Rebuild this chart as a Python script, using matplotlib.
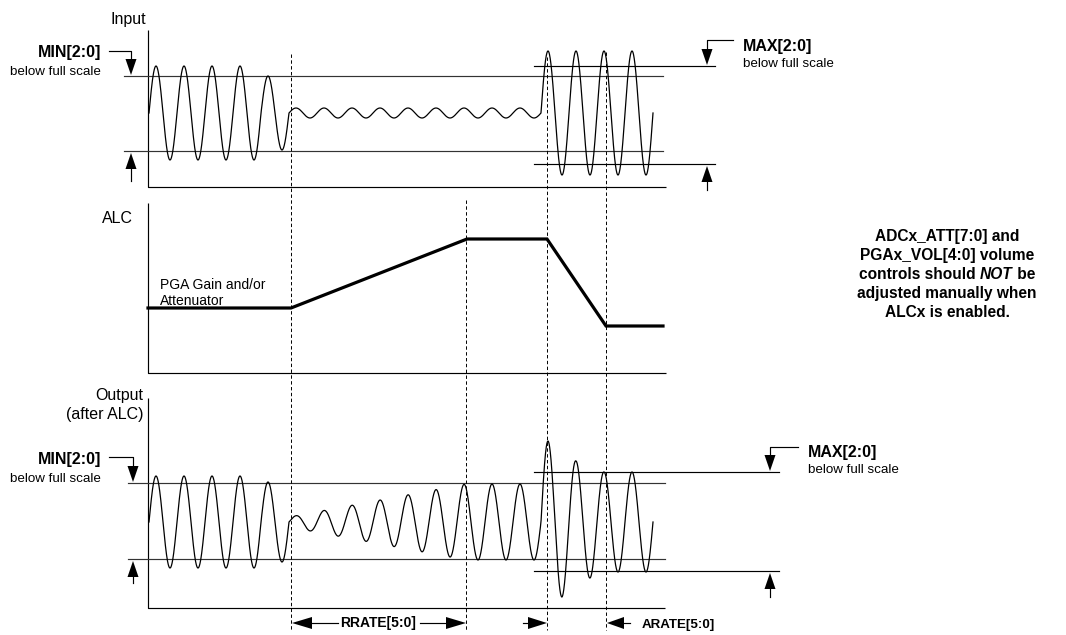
import numpy as np
import matplotlib
matplotlib.use("Agg")
import matplotlib.pyplot as plt

plt.rcParams['font.family'] = ['Liberation Sans', 'DejaVu Sans']

# ---------------- data (diagram in pixel space, y grows downward) ----------------
wave_period = 28          # one sine cycle
wave_zero = 149           # rising zero crossing
wave_start, wave_end = 149, 653

input_center = 113
input_env_x = [149, 261, 261, 289, 289, 541, 541, 653]
input_env_amp = [47, 47, 37, 37, 5, 5, 62, 62]

output_center = 522
output_env_x = [149, 261, 261, 289, 289, 466, 541, 541, 548, 562, 576, 590, 604, 653]
output_env_amp = [46, 46, 40, 40, 5, 38, 38, 81, 81, 75, 61, 56, 50, 50]

alc_x = [148, 291, 467, 547, 606, 663]
alc_y = [308, 308, 239, 239, 326, 326]

event_x = [291, 466, 547, 606]
event_top = [54, 200, 57, 52]
event_bottom = 630

input_min_levels = [76, 151]
input_max_levels = [66, 164]
output_min_levels = [483, 559]
output_max_levels = [472, 571]

note_lines = ["ADCx_ATT[7:0] and", "PGAx_VOL[4:0] volume",
              ("controls should ", "NOT", " be"), "adjusted manually when",
              "ALCx is enabled."]

# ---------------- figure ----------------
fig = plt.figure(figsize=(10.66, 6.35), dpi=100)
ax = fig.add_axes([0, 0, 1, 1])
ax.set_xlim(0, 1066)
ax.set_ylim(635, 0)
ax.axis('off')

K = 'black'
thin = 0.85


def head(tip_x, tip_y, direction, length=16, width=11):
    hw = width / 2.0
    if direction == 'down':
        xs = [tip_x, tip_x - hw, tip_x + hw]
        ys = [tip_y, tip_y - length, tip_y - length]
    elif direction == 'up':
        xs = [tip_x, tip_x - hw, tip_x + hw]
        ys = [tip_y, tip_y + length, tip_y + length]
    elif direction == 'left':
        xs = [tip_x, tip_x + length, tip_x + length]
        ys = [tip_y, tip_y - hw, tip_y + hw]
    else:
        xs = [tip_x, tip_x - length, tip_x - length]
        ys = [tip_y, tip_y - hw, tip_y + hw]
    ax.fill(xs, ys, color=K, lw=0, zorder=5)


# panel frames (L shapes)
for top, bottom, right in [(30, 187, 666), (203, 373, 666), (398, 608, 665)]:
    ax.plot([148, 148, right], [top, bottom, bottom], color=K, lw=thin, solid_capstyle='butt')

# threshold lines
for lv in input_min_levels:
    ax.plot([124, 663], [lv, lv], color='#333333', lw=thin)
for lv in input_max_levels:
    ax.plot([534, 715], [lv, lv], color=K, lw=thin)
for lv in output_min_levels:
    ax.plot([128, 665], [lv, lv], color='#333333', lw=thin)
for lv in output_max_levels:
    ax.plot([534, 779], [lv, lv], color=K, lw=thin)

# waveforms
xs = np.linspace(wave_start, wave_end, 4000)
phase = np.sin(2 * np.pi * (xs - wave_zero) / wave_period)
in_y = input_center - np.interp(xs, input_env_x, input_env_amp) * phase
out_y = output_center - np.interp(xs, output_env_x, output_env_amp) * phase
ax.plot(xs, in_y, color=K, lw=0.9)
ax.plot(xs, out_y, color=K, lw=0.9)

# ALC gain trace
ax.plot(alc_x, alc_y, color=K, lw=2.3, solid_joinstyle='miter')

# event dashed lines
for x, t in zip(event_x, event_top):
    ax.plot([x, x], [t, event_bottom], color=K, lw=0.7, linestyle=(0, (3.5, 2.5)))

# panel labels
ax.text(146, 24, "Input", ha='right', va='baseline', fontsize=11.5)
ax.text(133, 223, "ALC", ha='right', va='baseline', fontsize=11.5)
ax.text(143, 400, "Output", ha='right', va='baseline', fontsize=11.5)
ax.text(143, 419, "(after ALC)", ha='right', va='baseline', fontsize=11.5)
ax.text(160, 289, "PGA Gain and/or", ha='left', va='baseline', fontsize=10)
ax.text(160, 305, "Attenuator", ha='left', va='baseline', fontsize=10)


def min_note(ax_x, lead_y, text_base, sub_base, tip_top, tip_bot, tail_bot):
    ax.text(101, text_base, "MIN[2:0]", ha='right', va='baseline', fontsize=11.5, fontweight='bold')
    ax.text(101, sub_base, "below full scale", ha='right', va='baseline', fontsize=9.6)
    ax.plot([109, ax_x, ax_x], [lead_y, lead_y, tip_top - 14], color=K, lw=thin)
    head(ax_x, tip_top, 'down', 16, 11)
    ax.plot([ax_x, ax_x], [tip_bot + 14, tail_bot], color=K, lw=thin)
    head(ax_x, tip_bot, 'up', 16, 11)


def max_note(ax_x, lead_y, text_x, text_base, sub_base, tip_top, tip_bot, tail_bot):
    ax.text(text_x, text_base, "MAX[2:0]", ha='left', va='baseline', fontsize=11.5, fontweight='bold')
    ax.text(text_x, sub_base, "below full scale", ha='left', va='baseline', fontsize=9.6)
    ax.plot([text_x - 10, ax_x, ax_x], [lead_y, lead_y, tip_top - 14], color=K, lw=thin)
    head(ax_x, tip_top, 'down', 16, 11)
    ax.plot([ax_x, ax_x], [tip_bot + 14, tail_bot], color=K, lw=thin)
    head(ax_x, tip_bot, 'up', 16, 11)


min_note(131, 51, 57, 75, input_min_levels[0] - 1, input_min_levels[1] + 2, 181)
min_note(133, 457, 464, 482, output_min_levels[0] - 1, output_min_levels[1] + 2, 583)
max_note(707, 40, 743, 51, 67, input_max_levels[0] - 1, input_max_levels[1] + 2, 190)
max_note(770, 447, 808, 457, 473, output_max_levels[0] - 1, output_max_levels[1] + 2, 597)

# rate arrows
ay = 623
head(event_x[0] + 1, ay, 'left', 20, 12)
ax.plot([event_x[0] + 20, 338], [ay, ay], color=K, lw=thin)
ax.text(378.5, 627, "RRATE[5:0]", ha='center', va='baseline', fontsize=10, fontweight='bold')
ax.plot([420, 448], [ay, ay], color=K, lw=thin)
head(event_x[1], ay, 'right', 20, 12)
ax.plot([523, 530], [ay, ay], color=K, lw=thin)
head(event_x[2], ay, 'right', 19, 12)
head(event_x[3] + 1, ay, 'left', 17, 12)
ax.plot([event_x[3] + 17, 630], [ay, ay], color=K, lw=thin)
ax.text(642, 628, "ARATE[5:0]", ha='left', va='baseline', fontsize=9.6, fontweight='bold')

# right-hand note
cx = 947
base0 = 241
step = 19.1
fig.canvas.draw()
renderer = fig.canvas.get_renderer()
for i, line in enumerate(note_lines):
    yb = base0 + i * step
    if isinstance(line, tuple):
        parts = []
        for j, seg in enumerate(line):
            style = 'italic' if j == 1 else 'normal'
            t = ax.text(0, yb, seg, ha='left', va='baseline', fontsize=11.2,
                        fontweight='bold', fontstyle=style)
            parts.append(t)
        widths = [p.get_window_extent(renderer).width for p in parts]
        total = sum(widths)
        x0 = cx - total / 2.0
        for p, w in zip(parts, widths):
            p.set_x(x0)
            x0 += w
    else:
        ax.text(cx, yb, line, ha='center', va='baseline', fontsize=11.2, fontweight='bold')

fig.savefig("out.png", dpi=100)
